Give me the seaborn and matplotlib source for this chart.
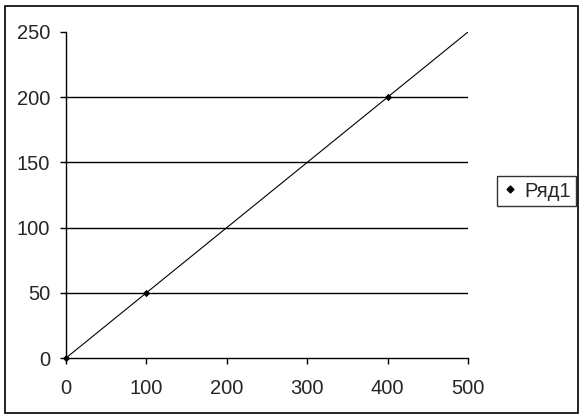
import matplotlib
matplotlib.use('Agg')
from matplotlib import pyplot as plt
from matplotlib.patches import Rectangle
from matplotlib.lines import Line2D
import seaborn as sns
import pandas as pd

# data
x_vals = [0, 100, 400]
y_vals = [0, 50, 200]
trend_x = [0, 500]
trend_y = [0, 250]
series_name = 'Ряд1'
x_ticks = [0, 100, 200, 300, 400, 500]
y_ticks = [0, 50, 100, 150, 200, 250]
grid_y = [50, 100, 150, 200]

sns.set_style('white')
plt.rcParams['font.family'] = ['Liberation Sans', 'DejaVu Sans']
fsize = 14.5

df = pd.DataFrame({'x': x_vals, 'y': y_vals})
df_trend = pd.DataFrame({'x': trend_x, 'y': trend_y})

fig = plt.figure(figsize=(5.86, 4.19), dpi=100)
ax = fig.add_axes([66 / 586, 1 - 358 / 419, (468 - 66) / 586, (358 - 32) / 419])

sns.lineplot(data=df_trend, x='x', y='y', ax=ax, color='black', linewidth=0.8,
             legend=False)
sns.scatterplot(data=df, x='x', y='y', ax=ax, color='black', marker='D', s=14,
                edgecolor='black', linewidth=0, legend=False, zorder=5,
                clip_on=False)

ax.set_xlim(0, 500)
ax.set_ylim(0, 250)
ax.set_xticks(x_ticks)
ax.set_yticks(y_ticks)
ax.set_xlabel('')
ax.set_ylabel('')
for t in grid_y:
    ax.axhline(t, color='black', linewidth=1, zorder=1)

for side in ['top', 'right']:
    ax.spines[side].set_visible(False)
for side in ['left', 'bottom']:
    ax.spines[side].set_color('black')
    ax.spines[side].set_linewidth(1)
ax.tick_params(axis='y', direction='out', length=4, width=1, color='black',
               labelsize=fsize, pad=7.5, left=True)
ax.tick_params(axis='x', direction='out', length=4, width=1, color='black',
               labelsize=fsize, pad=11, bottom=True)

handle = Line2D([], [], marker='D', color='black', linestyle='none', markersize=3.5)
leg = fig.legend([handle], [series_name], loc='center left',
                 bbox_to_anchor=(497 / 586, 1 - 191 / 419), frameon=True,
                 fancybox=False, borderpad=0.25, handletextpad=0.3,
                 handlelength=0.8, fontsize=fsize, borderaxespad=0)
leg.get_frame().set_edgecolor('black')
leg.get_frame().set_linewidth(1)

fig.patches.append(Rectangle((5 / 586, 6 / 419), 573 / 586, 407 / 419,
                             transform=fig.transFigure, fill=False,
                             edgecolor='black', linewidth=1.2))

fig.savefig('out.png', dpi=100)
